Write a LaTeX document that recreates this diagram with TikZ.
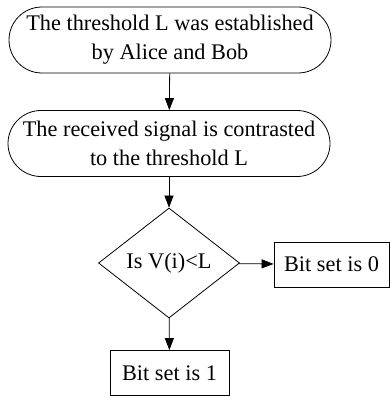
\documentclass[tikz,border=0pt]{standalone}
\usepackage{fontspec}
\setmainfont{Liberation Serif}
\usetikzlibrary{arrows.meta,shapes.geometric}
\begin{document}
\begin{tikzpicture}[x=1pt,y=-1pt,
  txt/.style={font=\fontsize{22.3}{29}\selectfont, align=center, inner sep=0pt},
  roundbox/.style={txt, draw, rounded corners=33pt, minimum width=322pt, minimum height=66pt},
  plainbox/.style={txt, draw, minimum height=45pt},
  decision/.style={txt, draw, diamond, aspect=1.28, minimum width=141pt, minimum height=110pt},
  arr/.style={-{Triangle[length=12pt,width=9pt]}, line width=0.8pt},
  every node/.append style={line width=0.8pt}]
\useasboundingbox (0,0) rectangle (390,396);
\node[roundbox] (a) at (170,40) {The threshold L was established\\by Alice and Bob};
\node[roundbox] (b) at (169,143.5) {The received signal is contrasted\\to the threshold L};
\node[decision] (c) at (169,263) {Is V(i)<L};
\node[plainbox, minimum width=115pt] (d) at (331.5,264.5) {Bit set is 0};
\node[plainbox, minimum width=119pt] (e) at (169.5,373) {Bit set is 1};
\draw[arr] (a) -- (b);
\draw[arr] (b) -- (c);
\draw[arr] (c) -- (d);
\draw[arr] (c) -- (e);
\end{tikzpicture}
\end{document}
